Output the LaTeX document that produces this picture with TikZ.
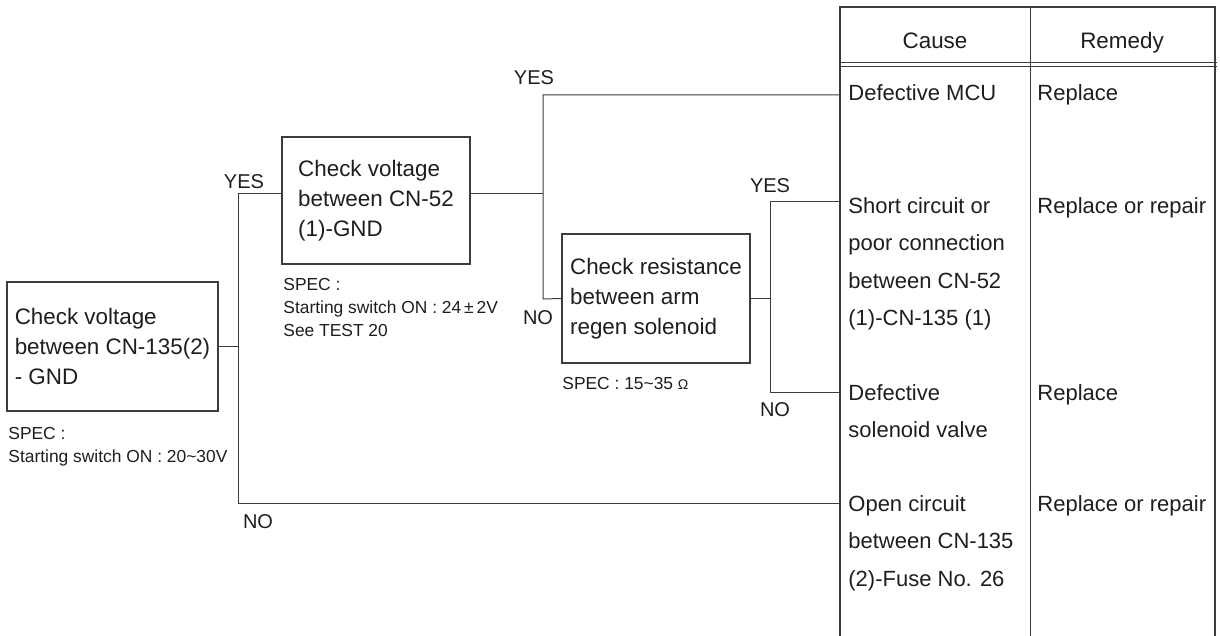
\documentclass[tikz,border=0pt]{standalone}
\usepackage{fontspec}
\setmainfont{Liberation Sans}
\usepackage{xcolor}
\usepackage{tikz}
\usetikzlibrary{positioning, calc}
\definecolor{inkgray}{HTML}{3C3C3C}
\definecolor{textblack}{HTML}{1E1E1E}

\begin{document}
\begin{tikzpicture}[x=0.5pt, y=-0.5pt,
    checkbox/.style={draw=inkgray, line width=0.8pt, align=left, inner sep=0pt, minimum width=94pt, text=textblack, font=\fontsize{11.2}{15}\selectfont},
    spectext/.style={anchor=north west, align=left, inner sep=0pt, text=textblack, font=\fontsize{8.7}{11.5}\selectfont},
    celltext/.style={anchor=north west, align=left, inner sep=0pt, text=textblack, font=\fontsize{11}{18.75}\selectfont},
    answer/.style={inner sep=0pt, text=textblack, font=\fontsize{10}{12}\selectfont},
    wire/.style={draw=inkgray, line width=0.5pt}]
    \useasboundingbox (0,0) rectangle (1220,636);

    \node[checkbox, minimum width=105.5pt, minimum height=64.5pt] (volt135) at (112.5,346.5) {%
      Check voltage\\between CN-135(2)\\- GND};
    \node[checkbox, minimum height=63.5pt] (volt52) at (376,200.5) {%
      Check voltage\\between CN-52\\(1)-GND};
    \node[checkbox, minimum height=64.5pt] (resist) at (656,298.5) {%
      Check resistance\\between arm\\regen solenoid};

    \node[spectext] (spec135) at (8,426.5) {SPEC :\\Starting switch ON : 20\textasciitilde30V};
    \node[spectext] (spec52) at (283,277.5) {SPEC :\\Starting switch ON : 24\,±\,2V\\See TEST 20};
    \node[spectext] (specres) at (562,376.5) {SPEC : 15\textasciitilde35 {\fontsize{7}{8}\selectfont Ω}};

    \coordinate (tblW) at (840,7);
    \coordinate (yesA) at (238,194);
    \coordinate (noA) at (238,503);
    \coordinate (midB) at (543,194);
    \coordinate (yesB) at (543,95);
    \coordinate (noB) at (543,299);
    \coordinate (midC) at (770,298.5);
    \coordinate (yesC) at (770,202);
    \coordinate (noC) at (770,392);

    \draw[wire] (volt135.east) -- (volt135.east -| yesA);
    \draw[wire] ([yshift=3.25pt]volt52.west) -- (yesA) -- (noA) -- (noA -| tblW);
    \draw[wire] ([yshift=3.25pt]volt52.east) -- (midB);
    \draw[wire] (yesB -| tblW) -- (yesB) -- (noB) -- (resist.west);
    \draw[wire] (resist.east) -- (midC);
    \draw[wire] (yesC -| tblW) -- (yesC) -- (noC) -- (noC -| tblW);

    \node[answer] (yes1) at (244,182) {YES};
    \node[answer] (no1) at (258,522) {NO};
    \node[answer] (yes2) at (534,78) {YES};
    \node[answer] (no2) at (538,318) {NO};
    \node[answer] (yes3) at (770,186) {YES};
    \node[answer] (no3) at (775,410) {NO};

    \draw[inkgray, line width=1pt] (840,636) -- (840,7) -- (1215,7) -- (1215,636);
    \draw[inkgray, line width=0.5pt] (1030,7) -- (1030,636);
    \draw[inkgray, line width=0.5pt] (840,63) -- (1217,63);
    \draw[inkgray, line width=0.5pt] (840,67) -- (1217,67);

    \node[anchor=base, inner sep=0pt, text=textblack, font=\fontsize{11.2}{15}\selectfont] (causehead) at (935,48.5) {Cause};
    \node[anchor=base, inner sep=0pt, text=textblack, font=\fontsize{11.2}{15}\selectfont] (remedyhead) at (1122,48.5) {Remedy};

    \node[celltext] (cause1) at (848,84) {Defective MCU};
    \node[celltext] (remedy1) at (1037,84) {Replace};
    \node[celltext] (cause2) at (848,197) {Short circuit or\\poor connection\\between CN-52\\(1)-CN-135 (1)};
    \node[celltext] (remedy2) at (1037,197) {Replace or repair};
    \node[celltext] (cause3) at (848,384) {Defective\\solenoid valve};
    \node[celltext] (remedy3) at (1037,384) {Replace};
    \node[celltext] (cause4) at (848,495) {Open circuit\\between CN-135\\(2)-Fuse No. 26};
    \node[celltext] (remedy4) at (1037,495) {Replace or repair};
  \end{tikzpicture}
\end{document}
